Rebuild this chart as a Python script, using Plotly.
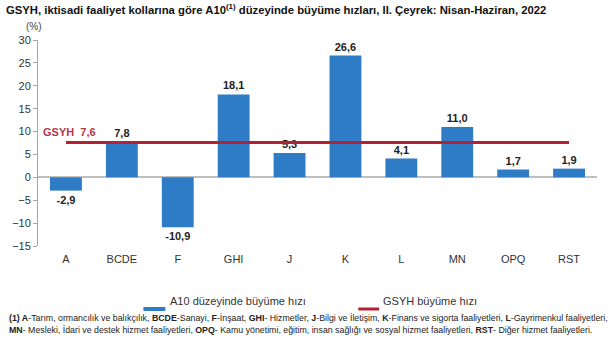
import plotly.graph_objects as go

categories = ["A", "BCDE", "F", "GHI", "J", "K", "L", "MN", "OPQ", "RST"]
a10_growth = [-2.9, 7.8, -10.9, 18.1, 5.3, 26.6, 4.1, 11.0, 1.7, 1.9]
gdp_growth = 7.6
y_ticks = [-15, -10, -5, 0, 5, 10, 15, 20, 25, 30]

BLUE = "#2E7BC6"
RED = "#B22232"
FONT = "Liberation Sans"

fig = go.Figure()
fig.add_trace(go.Bar(
    x=categories, y=a10_growth, marker=dict(color=BLUE, line=dict(width=0)),
    texttemplate="<b>%{y:.1f}</b>", textposition="outside",
    textfont=dict(family=FONT, size=11, color="#222"), cliponaxis=False,
    name="A10 düzeyinde büyüme hızı", showlegend=False,
))
fig.add_trace(go.Scatter(
    x=categories, y=[gdp_growth] * len(categories), mode="lines",
    line=dict(color=RED, width=3), name="GSYH büyüme hızı", showlegend=False,
))

fig.update_layout(
    width=616, height=354,
    margin=dict(l=35, r=19, t=40, b=108),
    plot_bgcolor="white", paper_bgcolor="white",
    separators=",.",
    bargap=0.43,
    font=dict(family=FONT, size=11, color="#333"),
    title=dict(
        text="<b>GSYH, iktisadi faaliyet kollarına göre A10<sup>(1)</sup> düzeyinde büyüme hızları, II. Çeyrek: Nisan-Haziran, 2022</b>",
        xref="container", x=6 / 616, xanchor="left",
        yref="container", y=1 - 10 / 354, yanchor="middle",
        font=dict(family=FONT, size=11.3, color="#111"),
    ),
    xaxis=dict(
        range=[-0.5, len(categories) - 0.5], showline=False, showgrid=False,
        ticks="", tickfont=dict(family=FONT, size=11, color="#333"),
        ticklabelstandoff=5,
    ),
    yaxis=dict(
        range=[-15, 30], tickvals=y_ticks, showgrid=False,
        showline=True, linecolor="#A6A6A6", linewidth=1,
        ticks="outside", ticklen=4, tickcolor="#A6A6A6",
        zeroline=True, zerolinecolor="#BFBFBF", zerolinewidth=1.5,
        tickfont=dict(family=FONT, size=11, color="#333"),
    ),
)

def px_x(px):
    return (px - 35) / 562

def px_y(py):
    return (246 - py) / 206

ann = []
ann.append(dict(text="(%)", x=px_x(31), xanchor="center", y=px_y(26), yanchor="middle",
                xref="paper", yref="paper",
                showarrow=False, font=dict(size=10, color="#444")))
ann.append(dict(text="<b>GSYH  " + f"{gdp_growth:.1f}".replace(".", ",") + "</b>",
                x=px_x(38), xanchor="left", y=gdp_growth, yref="y", yshift=11, xref="paper",
                showarrow=False, font=dict(size=11, color="#B8344A")))
# legend
fig.add_shape(type="rect", xref="paper", yref="paper",
              x0=px_x(141), x1=px_x(163), y0=px_y(311), y1=px_y(307),
              fillcolor=BLUE, line=dict(width=0))
fig.add_shape(type="line", xref="paper", yref="paper",
              x0=px_x(357), x1=px_x(378), y0=px_y(309), y1=px_y(309),
              line=dict(color=RED, width=3))
ann.append(dict(text="A10 düzeyinde büyüme hızı", x=px_x(166), xanchor="left", y=px_y(309),
                xref="paper", yref="paper", showarrow=False, font=dict(size=11, color="#333")))
ann.append(dict(text="GSYH büyüme hızı", x=px_x(380), xanchor="left", y=px_y(309),
                xref="paper", yref="paper", showarrow=False, font=dict(size=11, color="#333")))
# footnote
fn1 = ("<b>(1) A</b>-Tarım, ormancılık ve balıkçılık, <b>BCDE</b>-Sanayi, <b>F</b>-İnşaat, "
       "<b>GHI</b>- Hizmetler, <b>J</b>-Bilgi ve İletişim, <b>K</b>-Finans ve sigorta faaliyetleri, "
       "<b>L</b>-Gayrimenkul faaliyetleri,")
fn2 = ("<b>MN</b>- Mesleki, İdari ve destek hizmet faaliyetleri, <b>OPQ</b>- Kamu yönetimi, eğitim, "
       "insan sağlığı ve sosyal hizmet faaliyetleri, <b>RST</b>- Diğer hizmet faaliyetleri.")
ann.append(dict(text=fn1, x=px_x(4), xanchor="left", y=px_y(325), xref="paper", yref="paper",
                showarrow=False, font=dict(size=8.8, color="#222")))
ann.append(dict(text=fn2, x=px_x(4), xanchor="left", y=px_y(337), xref="paper", yref="paper",
                showarrow=False, font=dict(size=8.8, color="#222")))
fig.update_layout(annotations=ann)

fig.write_html("out.html")
